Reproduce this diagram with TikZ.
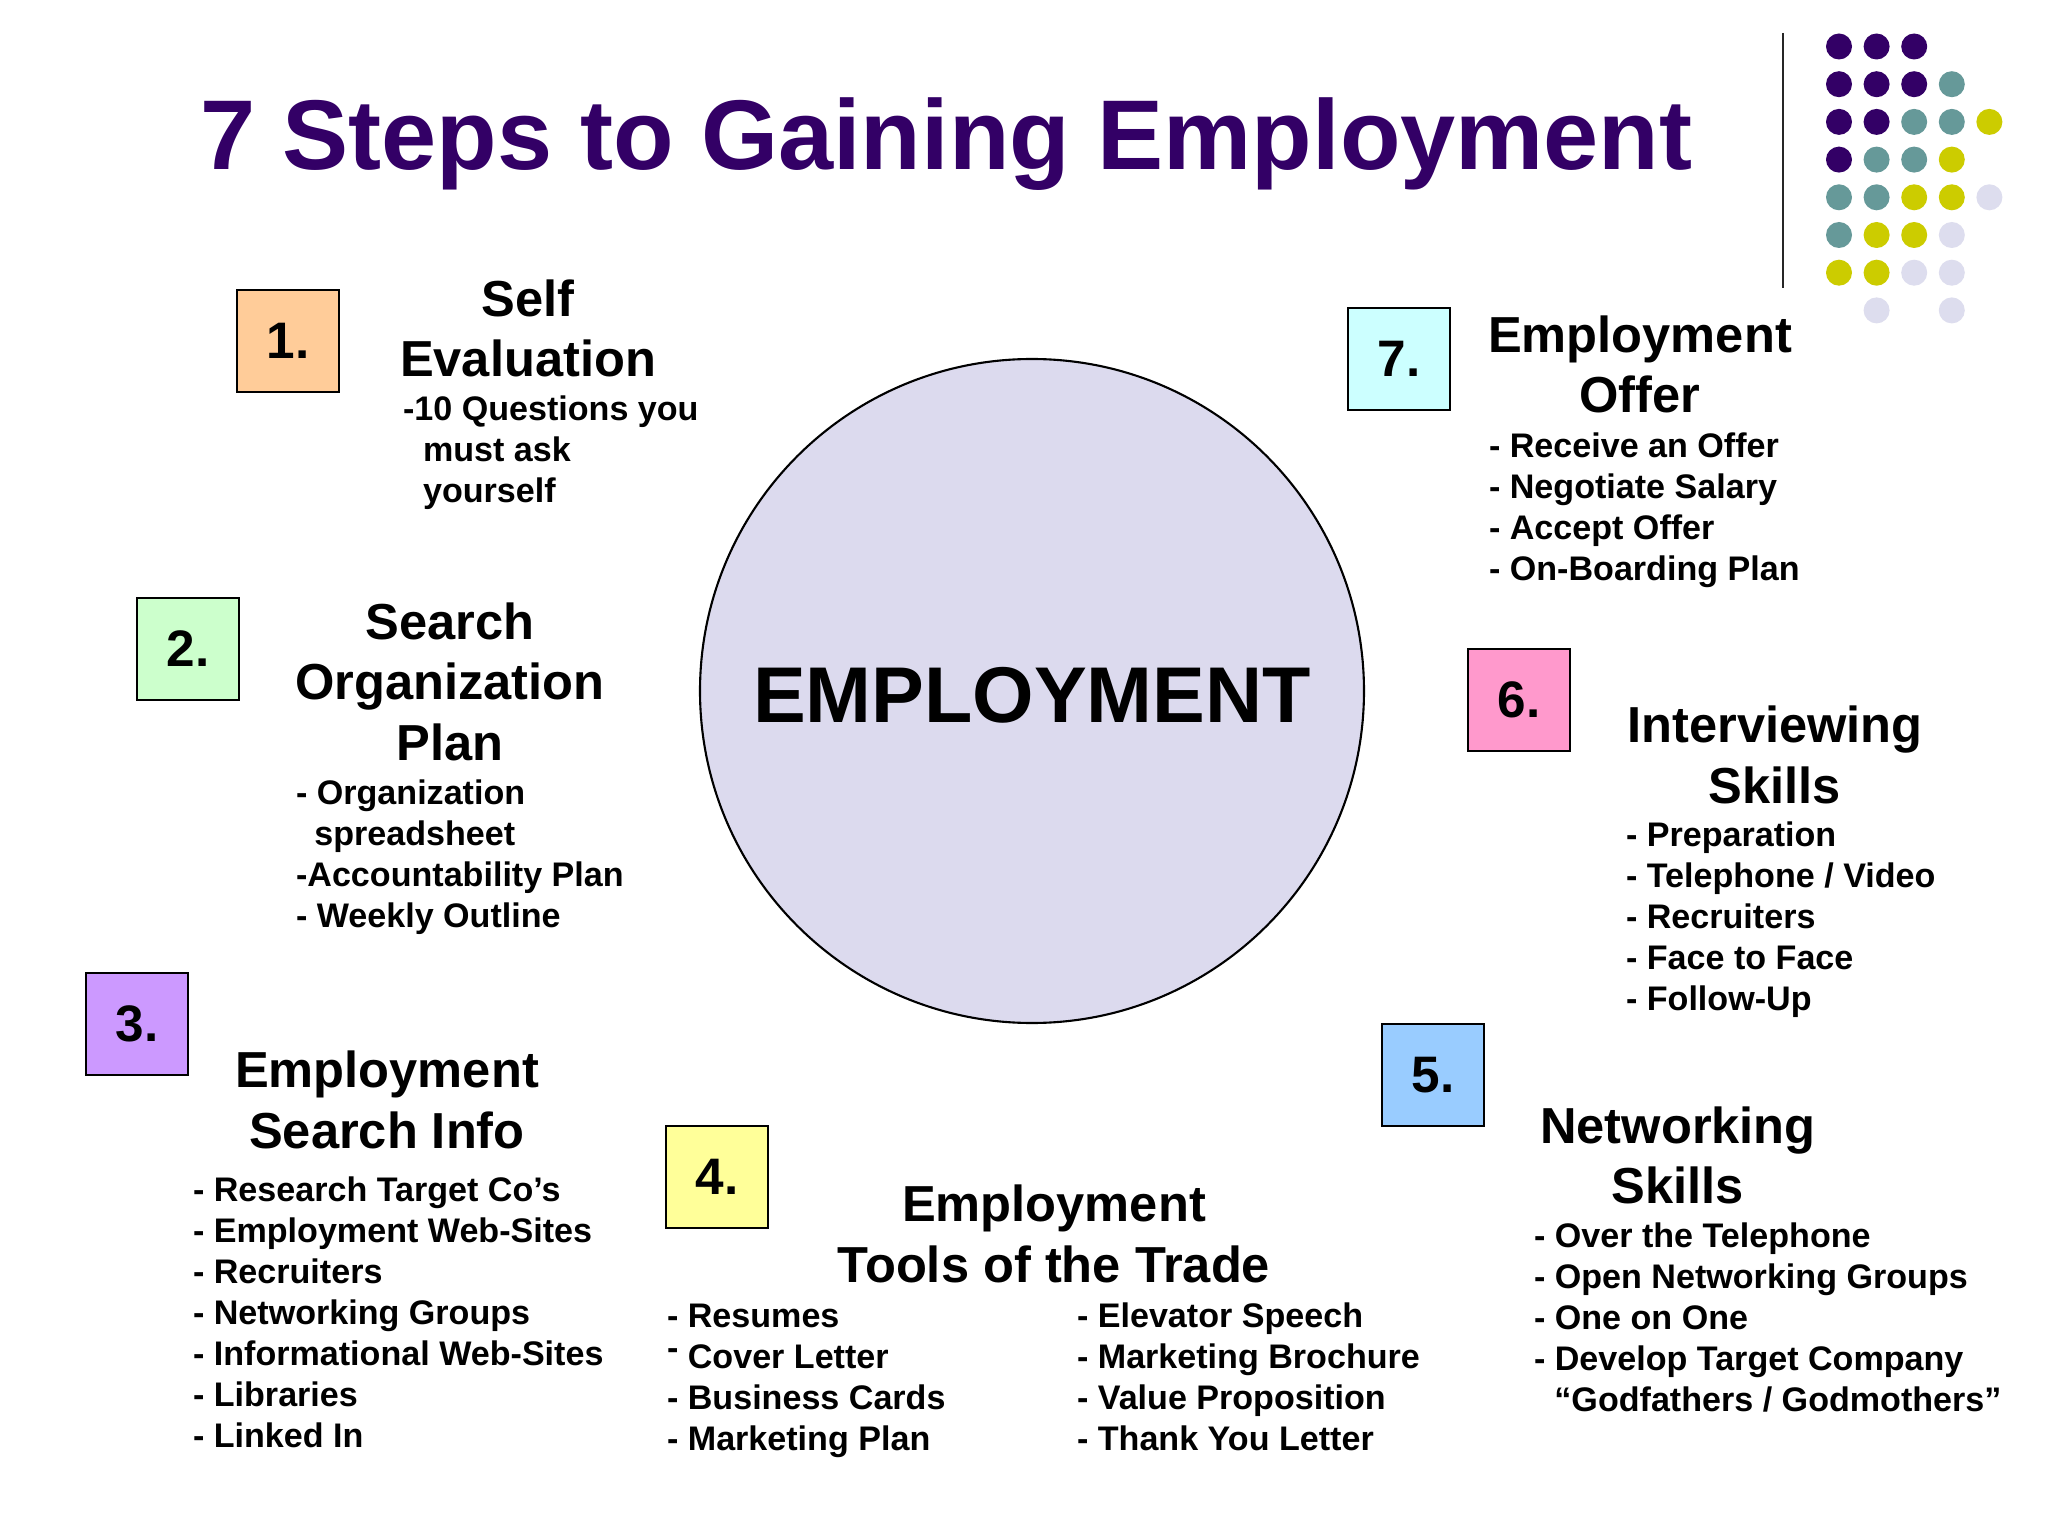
\documentclass[tikz,border=0pt]{standalone}
\usepackage{fontspec}
\setmainfont{Liberation Sans}
\definecolor{ttlpurple}{HTML}{330066}
\definecolor{dotteal}{HTML}{669999}
\definecolor{dotyellow}{HTML}{CCCC00}
\definecolor{dotlav}{HTML}{DDDDEE}
\definecolor{circfill}{HTML}{DCDAEE}
\definecolor{boxA}{HTML}{FFCC99}
\definecolor{boxB}{HTML}{CCFFCC}
\definecolor{boxC}{HTML}{CC99FF}
\definecolor{boxD}{HTML}{FFFF99}
\definecolor{boxE}{HTML}{99CCFF}
\definecolor{boxF}{HTML}{FF99CC}
\definecolor{boxG}{HTML}{CCFFFF}

\begin{document}
\begin{tikzpicture}[semithick,
  numbox/.style={draw,inner sep=0pt,minimum width=1.02cm,minimum height=1.02cm,
    font=\fontsize{14.6}{17}\selectfont\bfseries},
  head/.style={inner sep=0pt,anchor=base,align=center,
    font=\fontsize{14.4}{17.2}\selectfont\bfseries},
  items/.style={inner sep=0pt,anchor=base west,align=left,
    font=\fontsize{9.7}{11.66}\selectfont\bfseries}]
\useasboundingbox (0,0) rectangle (20.48,-15.36);
\fill[white] (0,0) rectangle (20.48,-15.36);

\node[inner sep=0pt,anchor=base west,text=ttlpurple,font=\fontsize{28.2}{34}\selectfont\bfseries]
  (title) at (1.99,-1.70) {7 Steps to Gaining Employment};
\draw[line width=0.7pt,black!85] (17.83,-0.33) -- (17.83,-2.88);
\foreach \c/\r in {0/0,1/0,2/0,0/1,1/1,2/1,0/2,1/2,0/3}
  \fill[ttlpurple] (18.39+0.376*\c,-0.465-0.377*\r) circle (0.13);
\foreach \c/\r in {3/1,2/2,3/2,1/3,2/3,0/4,1/4,0/5}
  \fill[dotteal] (18.39+0.376*\c,-0.465-0.377*\r) circle (0.13);
\foreach \c/\r in {4/2,3/3,2/4,3/4,1/5,2/5,0/6,1/6}
  \fill[dotyellow] (18.39+0.376*\c,-0.465-0.377*\r) circle (0.13);
\foreach \c/\r in {4/4,3/5,2/6,3/6,1/7,3/7}
  \fill[dotlav] (18.39+0.376*\c,-0.465-0.377*\r) circle (0.13);

\draw[fill=circfill] (10.32,-6.91) circle (3.32);
\node[inner sep=0pt,font=\fontsize{22.5}{27}\selectfont\bfseries] (emp) at (10.32,-6.95) {EMPLOYMENT};

\node[numbox,fill=boxA] (n1) at (2.88,-3.41) {1.};
\node[head] (h1) at (5.28,-3.765) {Self\\Evaluation};
\node[items] (l1) at (4.02,-5.025) {-10 Questions you\\\hspace*{5.7pt}must ask\\\hspace*{5.7pt}yourself};

\node[numbox,fill=boxB] (n2) at (1.88,-6.49) {2.};
\node[head] (h2) at (4.50,-7.60) {Search\\Organization\\Plan};
\node[items] (l2) at (2.95,-9.27) {- Organization\\\hspace*{5.2pt}spreadsheet\\-Accountability Plan\\- Weekly Outline};

\node[numbox,fill=boxC] (n3) at (1.37,-10.24) {3.};
\node[head] (h3) at (3.87,-11.48) {Employment\\Search Info};
\node[items] (l3) at (1.92,-14.475) {- Research Target Co’s\\- Employment Web-Sites\\- Recruiters\\- Networking Groups\\- Informational Web-Sites\\- Libraries\\- Linked In};

\node[numbox,fill=boxD] (n4) at (7.17,-11.77) {4.};
\node[head] (h4) at (10.54,-12.82) {Employment\\Tools of the Trade};
\node[items] (l4a) at (6.66,-14.50) {- Resumes\\\raisebox{0.45ex}{-} Cover Letter\\- Business Cards\\- Marketing Plan};
\node[items] (l4b) at (10.76,-14.50) {- Elevator Speech\\- Marketing Brochure\\- Value Proposition\\- Thank You Letter};

\node[numbox,fill=boxE] (n5) at (14.33,-10.75) {5.};
\node[head] (h5) at (16.78,-12.04) {Networking\\Skills};
\node[items] (l5) at (15.33,-14.11) {- Over the Telephone\\- Open Networking Groups\\- One on One\\- Develop Target Company\\\hspace*{5.8pt}“Godfathers / Godmothers”};

\node[numbox,fill=boxF] (n6) at (15.19,-7.00) {6.};
\node[head] (h6) at (17.75,-8.03) {Interviewing\\Skills};
\node[items] (l6) at (16.25,-10.10) {- Preparation\\- Telephone / Video\\- Recruiters\\- Face to Face\\- Follow-Up};

\node[numbox,fill=boxG] (n7) at (13.99,-3.59) {7.};
\node[head] (h7) at (16.40,-4.13) {Employment\\Offer};
\node[items] (l7) at (14.88,-5.80) {- Receive an Offer\\- Negotiate Salary\\- Accept Offer\\- On-Boarding Plan};
\end{tikzpicture}
\end{document}
